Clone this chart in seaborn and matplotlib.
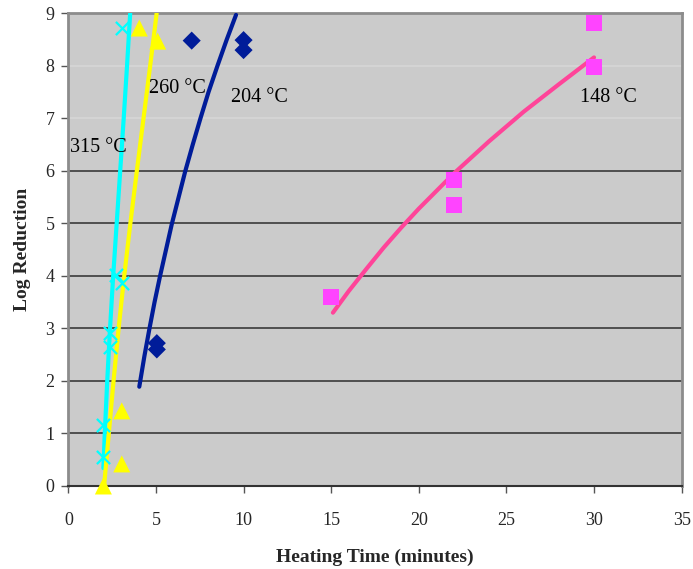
import numpy as np
import pandas as pd
import matplotlib
matplotlib.use("Agg")
import matplotlib.pyplot as plt
import seaborn as sns

# ---- data: measured points ----
t315 = [2.0, 2.0, 2.4, 2.4, 2.7, 3.05, 3.05]
r315 = [1.16, 0.56, 2.91, 2.65, 4.02, 3.86, 8.72]
t260 = [2.0, 3.05, 3.05, 4.05, 5.1]
r260 = [0.0, 0.42, 1.43, 8.72, 8.47]
t204 = [5.05, 5.05, 7.04, 10.0, 10.0]
r204 = [2.6, 2.72, 8.48, 8.49, 8.3]
t148 = [15.0, 22.0, 22.0, 30.0, 30.0]
r148 = [3.6, 5.83, 5.35, 8.82, 7.98]

# ---- data: fitted curves ----
c315_x = [2.0, 2.08, 2.22, 2.38, 2.56, 2.76, 2.96, 3.16, 3.35, 3.53]
c315_y = [0.34, 1.0, 2.0, 3.0, 4.0, 5.0, 6.0, 7.0, 8.0, 9.0]
c260_x = [2.0, 2.04, 2.31, 2.58, 2.87, 3.19, 3.54, 3.91, 4.29, 4.67, 5.04]
c260_y = [-0.15, 0.0, 1.0, 2.0, 3.0, 4.0, 5.0, 6.0, 7.0, 8.0, 9.0]
c204_x = [4.05, 4.34, 4.62, 4.92, 5.23, 5.9, 6.67, 7.10, 7.54, 8.0, 8.51, 9.04, 9.57]
c204_y = [1.89, 2.47, 2.98, 3.5, 3.99, 4.98, 5.99, 6.5, 7.0, 7.5, 8.0, 8.5, 8.97]
c148_x = [15.1, 16.0, 17.0, 18.0, 19.0, 20.0, 22.0, 24.0, 26.0, 28.0, 30.0]
c148_y = [3.3, 3.71, 4.13, 4.54, 4.92, 5.28, 5.95, 6.56, 7.13, 7.65, 8.16]

labels = ["315 °C", "260 °C", "204 °C", "148 °C"]
label_pos_x = [0.1, 4.6, 9.3, 29.2]
label_pos_y = [6.44, 7.56, 7.39, 7.4]
x_ticks = [0, 5, 10, 15, 20, 25, 30, 35]
y_ticks = [0, 1, 2, 3, 4, 5, 6, 7, 8, 9]

pts = pd.DataFrame({
    "t": t315 + t260 + t204 + t148,
    "r": r315 + r260 + r204 + r148,
    "s": ["315"] * len(t315) + ["260"] * len(t260) + ["204"] * len(t204) + ["148"] * len(t148),
})
curves = pd.DataFrame({
    "t": c315_x + c260_x + c204_x + c148_x,
    "r": c315_y + c260_y + c204_y + c148_y,
    "s": ["315"] * len(c315_x) + ["260"] * len(c260_x) + ["204"] * len(c204_x) + ["148"] * len(c148_x),
})

sns.set_theme(style="white")
plt.rcParams["font.family"] = ["Liberation Serif", "DejaVu Serif"]

fig = plt.figure(figsize=(6.93, 5.69), dpi=100)
ax = fig.add_axes([0.0986, 0.1459, 0.885, 0.8307])
ax.set_facecolor("#CBCBCB")

# gridlines
for yv in y_ticks[1:-1]:
    ax.axhline(yv, color="#3a3a3a" if yv <= 6 else "#d6d6d6", lw=1.2, zorder=1)

line_pal = {"315": "#00FFFF", "260": "#FFFF00", "204": "#001C99", "148": "#FF4499"}
pt_pal = {"315": "#00FFFF", "260": "#FFFF00", "204": "#001C99", "148": "#FF44FF"}

sns.lineplot(data=curves, x="t", y="r", hue="s", palette=line_pal, sort=False,
             estimator=None, units="s", lw=3.0, legend=False, ax=ax, zorder=3)

marker_map = {"315": "x", "260": "^", "204": "D", "148": "s"}
size_map = {"315": 90, "260": 150, "204": 85, "148": 130}
for key in ["315", "260", "204", "148"]:
    sub = pts[pts["s"] == key]
    sns.scatterplot(data=sub, x="t", y="r", color=pt_pal[key], marker=marker_map[key],
                    s=size_map[key], linewidth=1.6 if key == "315" else 0,
                    edgecolor=pt_pal[key] if key == "315" else "none",
                    legend=False, ax=ax, zorder=4, clip_on=False if key == "260" else True)

for lab, lx, ly in zip(labels, label_pos_x, label_pos_y):
    ax.text(lx, ly, lab, fontsize=14.5, color="black", va="center", ha="left", zorder=5)

ax.set_xlim(0, 35)
ax.set_ylim(0, 9)
ax.set_xticks(x_ticks)
ax.set_yticks(y_ticks)
ax.tick_params(axis="both", direction="out", length=5, width=1, color="#555555",
               labelsize=13, pad=5, bottom=True, left=True)
ax.tick_params(axis="x", pad=14)
for side in ["top", "right", "left"]:
    ax.spines[side].set_color("#8c8c8c")
    ax.spines[side].set_linewidth(2)
ax.spines["bottom"].set_color("#333333")
ax.spines["bottom"].set_linewidth(1.5)

ax.set_xlabel("Heating Time (minutes)", fontsize=14, fontweight="bold", labelpad=14)
ax.set_ylabel("Log Reduction", fontsize=14, fontweight="bold", labelpad=10)

fig.savefig("out.png", dpi=100, facecolor="white")
